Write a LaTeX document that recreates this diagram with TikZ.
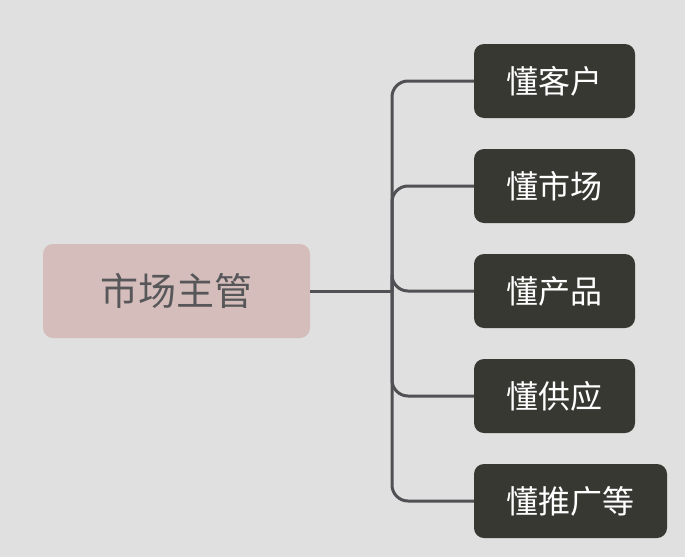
\documentclass[tikz,border=0pt]{standalone}
\usepackage{fontspec}
\setmainfont{Noto Sans CJK SC}
\usepackage{tikz}
\definecolor{bggray}{HTML}{E0E0E0}
\definecolor{rootpink}{HTML}{D4BDBB}
\definecolor{rootink}{HTML}{57575A}
\definecolor{leafdark}{HTML}{383832}
\definecolor{linkgray}{HTML}{505055}
\tikzset{
	rootbox/.style={fill=rootpink,text=rootink,rounded corners=10pt,minimum width=267pt,minimum height=94pt,font=\fontsize{38pt}{40pt}\selectfont,inner sep=0pt},
	leafbox/.style={fill=leafdark,text=white,rounded corners=10pt,minimum height=74pt,font=\fontsize{32pt}{34pt}\selectfont,inner sep=0pt},
	link/.style={draw=linkgray,line width=3pt}
}
\begin{document}
\begin{tikzpicture}[x=1pt,y=-1pt]
	\useasboundingbox[fill=bggray] (0,0) rectangle (685,557);
	\node[rootbox] (root) at (176.5,291) {市场主管};
	\node[leafbox,minimum width=161pt] (c1) at (554.5,81) {懂客户};
	\node[leafbox,minimum width=161pt] (c2) at (554.5,186) {懂市场};
	\node[leafbox,minimum width=161pt] (c3) at (554.5,291) {懂产品};
	\node[leafbox,minimum width=161pt] (c4) at (554.5,396) {懂供应};
	\node[leafbox,minimum width=193pt] (c5) at (570.5,501) {懂推广等};
	\coordinate (trunk) at (392,291);
	\draw[link] (root.east) -- (trunk);
	\foreach \c in {c1,c2,c3,c4,c5}
		\draw[link,rounded corners=16pt] (trunk) |- (\c.west);
\end{tikzpicture}
\end{document}
